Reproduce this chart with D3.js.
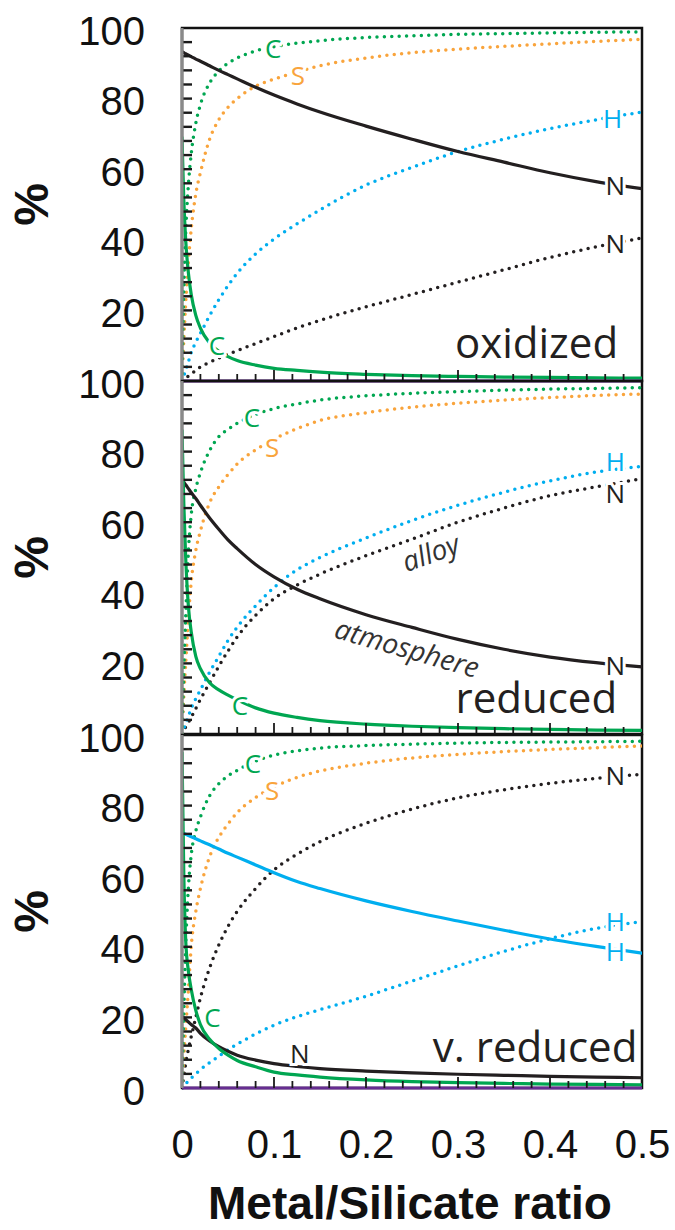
<!DOCTYPE html>
<html>
<head>
<meta charset="utf-8">
<script src="https://cdn.jsdelivr.net/npm/d3@7"></script>
<style>
  body { margin: 0; background: #fff; }
  svg { display: block; }
</style>
</head>
<body>
<svg id="chart" width="675" height="1230"></svg>
<script>
// metal/silicate ratio sample points (x)
const ratio = [0, 0.002, 0.004, 0.007, 0.01, 0.015, 0.02, 0.03, 0.04, 0.05, 0.06,
  0.08, 0.1, 0.125, 0.15, 0.2, 0.25, 0.3, 0.35, 0.4, 0.45, 0.5];

// oxidized
const oxCAtm   = [69, 51, 40, 30.5, 24.6, 18.6, 15, 10.8, 8.4, 6.9, 5.8, 4.5, 3.6, 3.0, 2.5, 1.9, 1.5, 1.3, 1.1, 1.0, 0.9, 0.8];
const oxCAlloy = [0, 26.5, 42, 55.8, 64.3, 73, 78.3, 84.4, 87.8, 90, 91.5, 93.5, 94.7, 95.7, 96.4, 97.3, 97.8, 98.2, 98.4, 98.6, 98.8, 98.9];
const oxSAlloy = [0, 12, 22, 34, 43, 53, 59, 68.5, 74, 77.5, 80, 83.5, 85.5, 87.5, 89.3, 91.5, 93, 94, 94.8, 95.5, 96.2, 96.8];
const oxHAlloy = [0, 1.5, 3, 5.5, 8, 11, 13.5, 18.5, 23, 27, 30.5, 36, 40.2, 44.5, 48.5, 55.5, 60.5, 65, 68.5, 71.5, 74, 76.2];
const oxNAlloy = [0, 0.4, 0.8, 1.4, 2, 3, 4, 5.3, 6.5, 7.6, 8.6, 10.6, 12.6, 15, 17.2, 21, 24.5, 28, 31.5, 35, 38, 40.5];
const oxNAtm   = [93.3, 93, 92.7, 92.3, 91.9, 91.2, 90.6, 89.3, 88, 86.8, 85.6, 83.2, 81, 78.5, 76.2, 72.2, 68.5, 65, 62, 59, 56.5, 54.5];

// reduced
const redCAtm   = [86, 65, 50, 36, 29, 22, 18.5, 14.5, 12.5, 11, 9.7, 7.4, 5.9, 4.7, 3.8, 2.8, 2.2, 1.8, 1.5, 1.3, 1.1, 1.0];
const redCAlloy = [0, 18, 33, 52, 62, 69.5, 74, 80.3, 84.2, 86.3, 88, 90.5, 92.2, 93.5, 94.6, 95.8, 96.5, 97, 97.4, 97.7, 97.9, 98.1];
const redSAlloy = [0, 11, 20, 33, 43, 52, 57.5, 65.5, 70, 73.5, 76.5, 80.5, 83.5, 86.5, 88.8, 91, 92.6, 93.7, 94.6, 95.3, 95.9, 96.3];
const redHAlloy = [0, 1.5, 3, 5, 7.2, 10, 12.5, 17.5, 22, 26.5, 30.3, 36.3, 41.5, 46.5, 50, 55.5, 60.5, 64.8, 68.5, 71.7, 74.2, 75.8];
const redNAlloy = [0, 1, 2, 3.3, 4.7, 7.2, 9.8, 14.5, 19.2, 23.5, 27.5, 33.6, 38.3, 42.2, 45.3, 50.5, 55.2, 60, 64, 67.5, 70, 72.3];
const redNAtm   = [72, 71.3, 70.6, 69.5, 68.4, 66.7, 64.8, 61.2, 58, 55, 52.5, 48, 44.5, 41, 38.3, 33.8, 30.2, 26.8, 24, 21.8, 20.2, 19];

// very reduced
const vredCAtm   = [95, 60, 42, 33, 28, 22, 18, 13.8, 11.2, 9.3, 7.8, 6, 4.5, 3.7, 3.1, 2.3, 1.8, 1.5, 1.3, 1.1, 1.0, 0.9];
const vredCAlloy = [0, 22, 40, 57, 66, 72.8, 76.8, 82.8, 86.2, 88.4, 90, 92.6, 94.3, 95.5, 96.3, 97, 97.4, 97.7, 97.9, 98, 98.1, 98.2];
const vredSAlloy = [0, 9, 17, 28, 40, 50, 56.5, 65.5, 71, 74.8, 78, 82.3, 85.3, 88, 89.8, 92, 93.5, 94.5, 95.3, 95.9, 96.4, 96.9];
const vredNAlloy = [0, 3.5, 7, 11, 14.5, 20, 25.5, 34, 40.5, 45.8, 50, 56.5, 61.8, 66.2, 69.8, 75, 79, 82.2, 84.5, 86.3, 87.7, 88.9];
const vredHAlloy = [0, 0.6, 1.2, 2, 2.8, 4, 5.2, 7.2, 9, 10.8, 12.4, 15.3, 17.8, 20.2, 22.2, 26, 30.3, 34.6, 38.7, 42.3, 45.2, 47.1];
const vredHAtm   = [72.3, 72.1, 71.9, 71.5, 71.2, 70.6, 70, 68.9, 67.7, 66.5, 65.4, 63.2, 61, 58.5, 56.5, 53, 50, 47.3, 44.7, 42.2, 40.1, 38.2];
const vredNAtm   = [20.2, 19.8, 19.4, 18.7, 18, 17, 15.5, 13.3, 11.7, 10.4, 9.3, 7.9, 6.9, 6.1, 5.5, 4.8, 4.3, 3.9, 3.6, 3.3, 3.1, 2.9];

const zeroRatio = [0, 0.5];
const zeroLine = [0, 0];

const panelNames = ["oxidized", "reduced", "v. reduced"];
const yTickLabels = [[100, 80, 60, 40, 20], [100, 80, 60, 40, 20], [100, 80, 60, 40, 20, 0]];
const xTickLabels = [0, 0.1, 0.2, 0.3, 0.4, 0.5];

const colors = { C: "#00a651", S: "#f9a43c", H: "#00aeef", N: "#231f20", zero: "#662d91" };

const panels = [
  {
    series: [
      { v: oxNAlloy, c: colors.N, dot: true },
      { v: oxHAlloy, c: colors.H, dot: true },
      { v: oxSAlloy, c: colors.S, dot: true },
      { v: oxCAlloy, c: colors.C, dot: true },
      { v: oxNAtm, c: colors.N },
      { v: oxCAtm, c: colors.C },
    ],
    zero: true,
    labels: [
      { t: "C", r: 0.099, p: 94.3, c: colors.C },
      { t: "S", r: 0.126, p: 86.7, c: colors.S },
      { t: "H", r: 0.468, p: 74.5, c: colors.H },
      { t: "N", r: 0.471, p: 55.5, c: colors.N },
      { t: "N", r: 0.471, p: 39.1, c: colors.N },
      { t: "C", r: 0.038, p: 10.2, c: colors.C },
    ],
    name: { r: 0.474, p: 6.5 },
  },
  {
    series: [
      { v: redNAlloy, c: colors.N, dot: true },
      { v: redHAlloy, c: colors.H, dot: true },
      { v: redSAlloy, c: colors.S, dot: true },
      { v: redCAlloy, c: colors.C, dot: true },
      { v: redNAtm, c: colors.N },
      { v: redCAtm, c: colors.C },
    ],
    zero: false,
    labels: [
      { t: "C", r: 0.076, p: 89.8, c: colors.C },
      { t: "S", r: 0.098, p: 81.3, c: colors.S },
      { t: "H", r: 0.471, p: 77.3, c: colors.H },
      { t: "N", r: 0.471, p: 68.3, c: colors.N },
      { t: "N", r: 0.471, p: 19.5, c: colors.N },
      { t: "C", r: 0.063, p: 8.2, c: colors.C },
    ],
    notes: [
      { t: "alloy", r: 0.27, p: 51.6, rot: -20 },
      { t: "atmosphere", r: 0.245, p: 24.6, rot: 16 },
    ],
    name: { r: 0.473, p: 5.9 },
  },
  {
    series: [
      { v: vredNAlloy, c: colors.N, dot: true },
      { v: vredHAlloy, c: colors.H, dot: true },
      { v: vredSAlloy, c: colors.S, dot: true },
      { v: vredCAlloy, c: colors.C, dot: true },
      { v: vredHAtm, c: colors.H },
      { v: vredNAtm, c: colors.N },
      { v: vredCAtm, c: colors.C },
    ],
    zero: true,
    labels: [
      { t: "C", r: 0.077, p: 92, c: colors.C },
      { t: "S", r: 0.098, p: 84.4, c: colors.S },
      { t: "N", r: 0.471, p: 88.7, c: colors.N },
      { t: "H", r: 0.471, p: 47.3, c: colors.H },
      { t: "H", r: 0.471, p: 38.8, c: colors.H },
      { t: "C", r: 0.033, p: 20.1, c: colors.C },
      { t: "N", r: 0.128, p: 9.9, c: colors.N },
    ],
    name: { r: 0.495, p: 7.4 },
  },
];

const svg = d3.select("#chart");
const panelTops = [28, 381, 735];
const panelH = 353;
const xRng = [182, 642];
const x = d3.scaleLinear().domain([0, 0.5]).range(xRng);
const sansFont = "'Liberation Sans', Arial, sans-serif";
const labelFont = "'Open Sans', 'Noto Sans', sans-serif";

// minor tick positions
const yMinor = d3.range(4, 100, 4);
const xMinor = d3.range(1, 25).map((k) => +(k * 0.02).toFixed(2));

panels.forEach((panel, i) => {
  const top = panelTops[i];
  const bottom = top + panelH;
  const y = d3.scaleLinear().domain([0, 100]).range([bottom, top]);
  const g = svg.append("g");

  g.append("clipPath").attr("id", "clip" + i)
    .append("rect").attr("x", xRng[0]).attr("y", top - 2)
    .attr("width", xRng[1] - xRng[0]).attr("height", panelH + 4);

  // frame
  g.append("rect")
    .attr("x", xRng[0]).attr("y", top)
    .attr("width", xRng[1] - xRng[0]).attr("height", panelH)
    .attr("fill", "none").attr("stroke", "#111").attr("stroke-width", 2.5);

  const line = d3.line()
    .x((d) => x(d[0]))
    .y((d) => y(d[1]))
    .curve(d3.curveMonotoneX);

  const plot = g.append("g").attr("clip-path", `url(#clip${i})`);

  panel.series.forEach((s) => {
    plot.append("path")
      .datum(d3.zip(ratio, s.v))
      .attr("d", line)
      .attr("fill", "none")
      .attr("stroke", s.c)
      .attr("stroke-width", s.dot ? 3.5 : 3.2)
      .attr("stroke-linecap", "round")
      .attr("stroke-dasharray", s.dot ? "0 7.4" : null);
  });

  if (panel.zero) {
    plot.append("path")
      .datum(d3.zip(zeroRatio, zeroLine))
      .attr("d", line)
      .attr("fill", "none")
      .attr("stroke", colors.zero)
      .attr("stroke-width", 3);
  }

  // inner ticks on the left, drawn over the curves
  g.append("g")
    .selectAll("line")
    .data(yMinor)
    .enter()
    .append("line")
    .attr("x1", xRng[0])
    .attr("x2", xRng[0] + 10)
    .attr("y1", (d) => y(d))
    .attr("y2", (d) => y(d))
    .attr("stroke", "#1a1a1a")
    .attr("stroke-width", 2.4);

  // inner ticks at the bottom
  g.append("g")
    .selectAll("line")
    .data(xMinor)
    .enter()
    .append("line")
    .attr("x1", (d) => x(d))
    .attr("x2", (d) => x(d))
    .attr("y1", bottom)
    .attr("y2", (d) => (Math.abs(d * 10 - Math.round(d * 10)) < 1e-6 ? bottom - 11 : bottom - 7))
    .attr("stroke", "#1a1a1a")
    .attr("stroke-width", 1.8);

  // gray left spine
  g.append("line")
    .attr("x1", xRng[0]).attr("x2", xRng[0])
    .attr("y1", top).attr("y2", bottom)
    .attr("stroke", "#8a8a8a").attr("stroke-width", 3);

  // y tick labels
  const yLab = g.append("g")
    .attr("transform", `translate(${xRng[0]},0)`)
    .call(d3.axisLeft(y).tickValues(yTickLabels[i]).tickSize(0).tickPadding(37).tickFormat(d3.format("d")));
  yLab.select(".domain").remove();
  yLab.selectAll("text")
    .attr("font-family", sansFont).attr("font-size", 40).attr("fill", "#111")
    .attr("dy", "0.4em");

  // "%"
  g.append("text")
    .attr("transform", `translate(31,${top + panelH / 2}) rotate(-90)`)
    .attr("text-anchor", "middle").attr("dominant-baseline", "central")
    .attr("font-family", sansFont).attr("font-weight", "bold").attr("font-size", 48)
    .attr("fill", "#111").text("%");

  // curve labels
  g.selectAll(".clab")
    .data(panel.labels)
    .enter()
    .append("text")
    .attr("x", (d) => x(d.r))
    .attr("y", (d) => y(d.p))
    .attr("text-anchor", "middle")
    .attr("dominant-baseline", "central")
    .attr("font-family", labelFont)
    .attr("font-size", 26)
    .attr("fill", (d) => d.c)
    .attr("stroke", "#fff").attr("stroke-width", 6)
    .attr("paint-order", "stroke")
    .text((d) => d.t);

  if (panel.notes) {
    g.selectAll(".note")
      .data(panel.notes)
      .enter()
      .append("text")
      .attr("transform", (d) => `translate(${x(d.r)},${y(d.p)}) rotate(${d.rot})`)
      .attr("text-anchor", "middle")
      .attr("dominant-baseline", "central")
      .attr("font-family", labelFont)
      .attr("font-style", "italic")
      .attr("font-size", 28)
      .attr("fill", "#333")
      .text((d) => d.t);
  }

  // panel name
  g.append("text")
    .attr("x", x(panel.name.r))
    .attr("y", y(panel.name.p))
    .attr("text-anchor", "end")
    .attr("font-family", labelFont)
    .attr("font-size", 42)
    .attr("fill", "#231f20")
    .text(panelNames[i]);
});

// x tick labels
const xLab = svg.append("g")
  .attr("transform", `translate(0,${panelTops[2] + panelH})`)
  .call(d3.axisBottom(x).tickValues(xTickLabels).tickSize(0).tickPadding(42).tickFormat((d) => String(d)));
xLab.select(".domain").remove();
xLab.selectAll("text")
  .attr("font-family", sansFont).attr("font-size", 40).attr("fill", "#111");

svg.append("text")
  .attr("x", 410).attr("y", 1219)
  .attr("text-anchor", "middle")
  .attr("font-family", sansFont).attr("font-weight", "bold").attr("font-size", 46)
  .attr("fill", "#111")
  .text("Metal/Silicate ratio");
</script>
</body>
</html>
